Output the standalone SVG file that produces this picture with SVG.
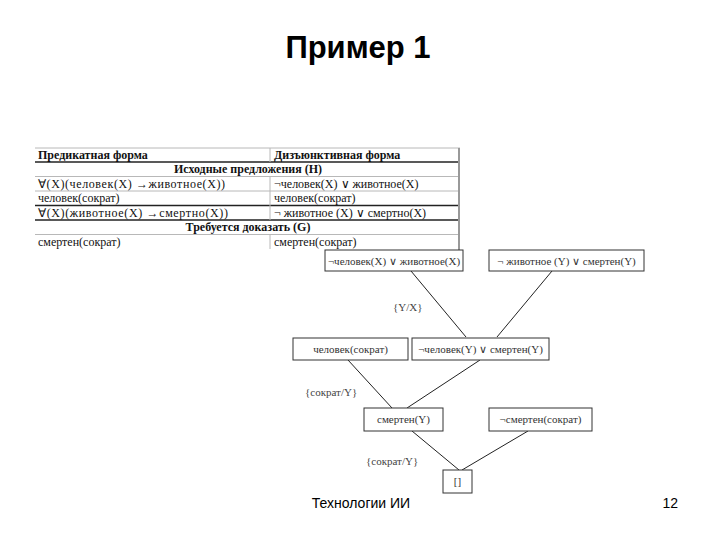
<svg xmlns="http://www.w3.org/2000/svg" width="720" height="540" viewBox="0 0 720 540">
<style>
.title{font-family:"Liberation Sans",Arial,sans-serif;font-size:31px;font-weight:bold;fill:#000}
.foot{font-family:"Liberation Sans",Arial,sans-serif;font-size:14px;fill:#000}
.t{font-family:"Liberation Serif","Times New Roman",serif;font-size:12px;fill:#111}
.tb{font-family:"Liberation Serif","Times New Roman",serif;font-size:12px;font-weight:bold;fill:#111}
.thin{stroke:#b8b8b8;stroke-width:1}
.thick{stroke:#222;stroke-width:1.3}
.box{fill:#fff;stroke:#333;stroke-width:1}
.nt{font-family:"Liberation Serif","Times New Roman",serif;font-size:11px;fill:#333;text-anchor:middle}
.lbl{font-family:"Liberation Serif","Times New Roman",serif;font-size:11px;fill:#444}
.edge{stroke:#222;stroke-width:1;fill:none}
</style>
<rect width="720" height="540" fill="#fff"/>
<text class="title" x="358" y="58" text-anchor="middle">Пример 1</text>

<g id="table">
  <line class="thin" x1="35" y1="148" x2="460" y2="148"/>
  <line class="thick" x1="35" y1="162" x2="460" y2="162"/>
  <line class="thin" x1="35" y1="176.5" x2="460" y2="176.5"/>
  <line class="thin" x1="35" y1="191" x2="460" y2="191"/>
  <line class="thick" x1="35" y1="205.5" x2="460" y2="205.5"/>
  <line class="thick" x1="35" y1="220" x2="460" y2="220"/>
  <line class="thin" x1="35" y1="234.5" x2="460" y2="234.5"/>
  <line class="thin" x1="270" y1="148" x2="270" y2="162"/>
  <line class="thin" x1="270" y1="176.5" x2="270" y2="220"/>
  <line class="thin" x1="270" y1="234.5" x2="270" y2="249"/>
  <line x1="459" y1="148" x2="459" y2="251" stroke="#999" stroke-width="2"/>
  <text class="tb" x="38" y="159">Предикатная форма</text>
  <text class="tb" x="274" y="159">Дизъюнктивная форма</text>
  <text class="tb" x="248" y="173" text-anchor="middle">Исходные предложения (Н)</text>
  <text class="t" x="38" y="188" textLength="187" lengthAdjust="spacing">∀(X)(человек(X) →животное(X))</text>
  <text class="t" x="274" y="188">¬человек(X) ∨ животное(X)</text>
  <text class="t" x="38" y="202">человек(сократ)</text>
  <text class="t" x="274" y="202">человек(сократ)</text>
  <text class="t" x="38" y="217" textLength="190" lengthAdjust="spacing">∀(X)(животное(X)   →смертно(X))</text>
  <text class="t" x="274" y="217">¬ животное (X) ∨ смертно(X)</text>
  <text class="tb" x="248" y="231" text-anchor="middle">Требуется доказать (G)</text>
  <text class="t" x="38" y="246">смертен(сократ)</text>
  <text class="t" x="274" y="246">смертен(сократ)</text>
</g>

<g id="connectors">
  <line class="edge" x1="411" y1="271" x2="466" y2="337"/>
  <line class="edge" x1="552" y1="271" x2="497" y2="337"/>
  <line class="edge" x1="348" y1="360" x2="392" y2="408"/>
  <line class="edge" x1="480" y1="360" x2="407" y2="408"/>
  <line class="edge" x1="412" y1="431" x2="459" y2="470"/>
  <line class="edge" x1="528" y1="431" x2="462" y2="470"/>
  <text class="lbl" x="393" y="311">{Y/X}</text>
  <text class="lbl" x="305" y="396">{сократ/Y}</text>
  <text class="lbl" x="366" y="465">{сократ/Y}</text>
</g>

<g id="n1">
  <rect class="box" x="325" y="250" width="138" height="21"/>
  <text class="nt" x="394" y="264.5">¬человек(X) ∨ животное(X)</text>
</g>
<g id="n2">
  <rect class="box" x="489" y="250" width="155" height="21"/>
  <text class="nt" x="566.5" y="264.5">¬ животное (Y) ∨ смертен(Y)</text>
</g>
<g id="n3">
  <rect class="box" x="293" y="338" width="115" height="22"/>
  <text class="nt" x="350.5" y="352.5">человек(сократ)</text>
</g>
<g id="n4">
  <rect class="box" x="412" y="338" width="137" height="22"/>
  <text class="nt" x="480.5" y="352.5">¬человек(Y) ∨ смертен(Y)</text>
</g>
<g id="n5">
  <rect class="box" x="364" y="408" width="79" height="23"/>
  <text class="nt" x="403.5" y="423">смертен(Y)</text>
</g>
<g id="n6">
  <rect class="box" x="489" y="408" width="103" height="23"/>
  <text class="nt" x="540.5" y="423">¬смертен(сократ)</text>
</g>
<g id="n7">
  <rect class="box" x="443" y="470" width="29" height="23"/>
  <text class="nt" x="457.5" y="485">[]</text>
</g>

<text class="foot" x="361" y="508" text-anchor="middle">Технологии ИИ</text>
<text class="foot" x="678" y="508" text-anchor="end">12</text>
</svg>
